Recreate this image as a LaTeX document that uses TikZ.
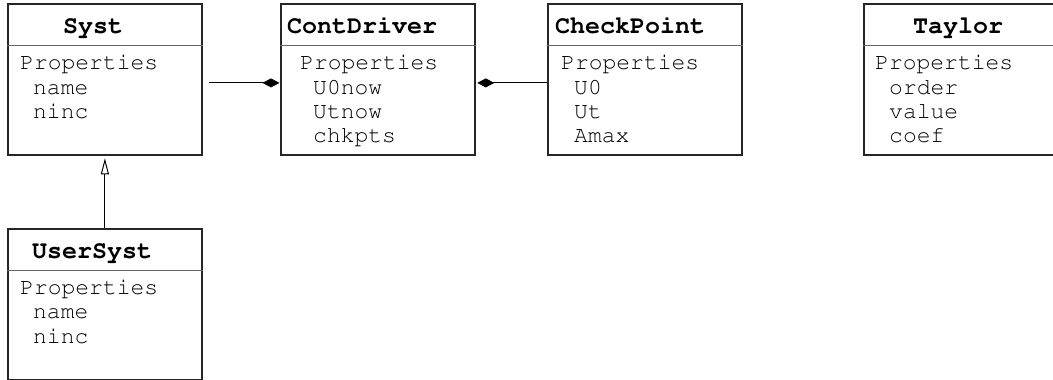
\documentclass[tikz,border=0pt]{standalone}
\usepackage[T1]{fontenc}
\newcommand\umlmono{\fontencoding{T1}\fontfamily{pcr}\selectfont}
\usetikzlibrary{arrows.meta}
\tikzset{
  cls/.style={draw=black!85, line width=1.8pt, rectangle, inner sep=0pt, minimum width=194pt, minimum height=151pt, anchor=north west},
  sepline/.style={draw=black!60, line width=1pt},
  ttl/.style={font=\umlmono\bfseries\fontsize{25}{25}\selectfont, anchor=base west, inner sep=0pt},
  prp/.style={font=\umlmono\fontsize{23}{23}\selectfont, anchor=base west, inner sep=0pt},
  conn/.style={draw=black, line width=1pt},
}
\begin{document}
\begin{tikzpicture}[x=1pt,y=-1pt]
\useasboundingbox (0,0) rectangle (1053,380);
\clip (0,0) rectangle (1053,380);
% boxes
\node[cls] (syst) at (7,3) {};
\node[cls] (cont) at (280,3) {};
\node[cls] (check) at (547,3) {};
\node[cls] (taylor) at (863,3) {};
\node[cls] (user) at (7,228) {};
% separators
\foreach \b in {syst,cont,check,taylor,user}
  \draw[sepline] ([yshift=-42pt]\b.north west) -- ([yshift=-42pt]\b.north east);
% Syst
\node[ttl] (systT) at (63,33) {Syst};
\node[prp] (systP) at (20,69) {Properties};
\node[prp] (systA) at (33,94) {name};
\node[prp] (systB) at (33,118) {ninc};
% ContDriver
\node[ttl] (contT) at (287,33) {ContDriver};
\node[prp] (contP) at (300,69) {Properties};
\node[prp] (contA) at (313,94) {U0now};
\node[prp] (contB) at (313,118) {Utnow};
\node[prp] (contC) at (313,142) {chkpts};
% CheckPoint
\node[ttl] (checkT) at (555,33) {CheckPoint};
\node[prp] (checkP) at (561,69) {Properties};
\node[prp] (checkA) at (574,94) {U0};
\node[prp] (checkB) at (574,118) {Ut};
\node[prp] (checkC) at (574,142) {Amax};
% Taylor
\node[ttl] (taylorT) at (913,33) {Taylor};
\node[prp] (taylorP) at (875,69) {Properties};
\node[prp] (taylorA) at (889,94) {order};
\node[prp] (taylorB) at (889,118) {value};
\node[prp] (taylorC) at (889,142) {coef};
% UserSyst
\node[ttl] (userT) at (32,258) {UserSyst};
\node[prp] (userP) at (20,294) {Properties};
\node[prp] (userA) at (33,318) {name};
\node[prp] (userB) at (33,343) {ninc};
% connectors
\draw[conn, -{Diamond[length=17pt,width=9pt]}, shorten <=6pt, shorten >=0.5pt]
  ([yshift=-3.5pt]syst.east) -- ([yshift=-3.5pt]cont.east -| cont.west);
\draw[conn, -{Diamond[length=17pt,width=9pt]}, shorten >=1.5pt]
  ([yshift=-3.5pt]check.west) -- ([yshift=-3.5pt]cont.east);
\draw[conn, -{Triangle[open,length=16pt,width=8pt]}, shorten >=2.5pt]
  (user.north) -- (syst.south);
\end{tikzpicture}
\end{document}
